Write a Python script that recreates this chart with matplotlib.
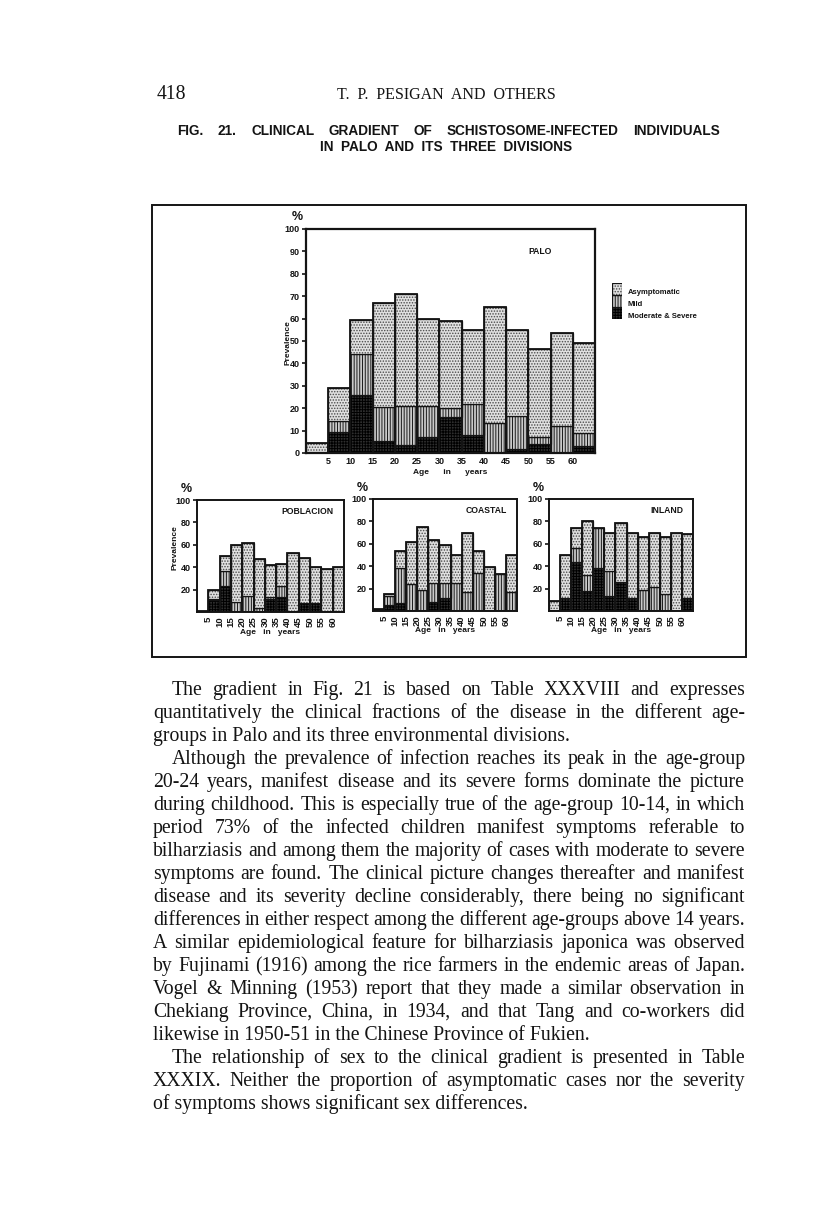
import matplotlib
matplotlib.use("Agg")
import matplotlib.pyplot as plt
import matplotlib.patches as mpatches
import numpy as np

W, H = 816, 1208

# age groups (bar left edge, years) and readings per division
age_starts = [0, 5, 10, 15, 20, 25, 30, 35, 40, 45, 50, 55, 60]
tick_ages = [5, 10, 15, 20, 25, 30, 35, 40, 45, 50, 55, 60]

# total prevalence, top of "mild" (all manifest), top of "moderate & severe"
palo_total = [4.5, 29, 59.5, 67, 71, 60, 59, 55, 65, 55, 46.5, 53.5, 49]
palo_manifest = [0, 14.5, 44, 20.5, 21, 21, 20, 22, 13.5, 16.5, 7, 12, 9]
palo_severe = [0, 9.5, 26, 5.5, 3.5, 7, 16, 8, 0, 2, 4, 0, 3]

pob_total = [1, 20, 50, 60, 62, 47, 42, 43, 53, 48, 40, 38, 40]
pob_manifest = [0, 12, 37, 9, 14, 4, 13, 23, 0, 8, 8, 0, 0]
pob_severe = [0, 11, 23, 0, 0, 0, 12, 13, 0, 8, 8, 0, 0]

coast_total = [2, 15, 54, 62, 75, 63, 59, 50, 70, 54, 39, 33, 50]
coast_manifest = [0, 13, 38, 24, 19, 25, 25, 25, 17, 34, 0, 33, 17]
coast_severe = [0, 5, 7, 0, 0, 8, 12, 0, 0, 0, 0, 0, 0]

inl_total = [9, 50, 74, 80, 74, 70, 79, 70, 66, 70, 66, 70, 69]
inl_manifest = [0, 12, 56, 32, 74, 36, 26, 12, 19, 21, 15, 0, 12]
inl_severe = [0, 12, 44, 18, 38, 13, 26, 12, 0, 0, 0, 0, 12]

legend_labels = ["Asymptomatic", "Mild", "Moderate & Severe"]

header_left = "418"
header_mid = "T.  P.  PESIGAN  AND  OTHERS"
title1 = "FIG. 21.  CLINICAL  GRADIENT  OF  SCHISTOSOME-INFECTED  INDIVIDUALS"
title2 = "IN  PALO  AND  ITS  THREE  DIVISIONS"

paragraphs = [
    ["The gradient in Fig. 21 is based on Table XXXVIII and expresses",
     "quantitatively the clinical fractions of the disease in the different age-",
     "groups in Palo and its three environmental divisions."],
    ["Although the prevalence of infection reaches its peak in the age-group",
     "20-24 years, manifest disease and its severe forms dominate the picture",
     "during childhood.  This is especially true of the age-group 10-14, in which",
     "period 73% of the infected children manifest symptoms referable to",
     "bilharziasis and among them the majority of cases with moderate to severe",
     "symptoms are found.  The clinical picture changes thereafter and manifest",
     "disease and its severity decline considerably, there being no significant",
     "differences in either respect among the different age-groups above 14 years.",
     "A similar epidemiological feature for bilharziasis japonica was observed",
     "by Fujinami (1916) among the rice farmers in the endemic areas of Japan.",
     "Vogel & Minning (1953) report that they made a similar observation in",
     "Chekiang Province, China, in 1934, and that Tang and co-workers did",
     "likewise in 1950-51 in the Chinese Province of Fukien."],
    ["The relationship of sex to the clinical gradient is presented in Table",
     "XXXIX.  Neither the proportion of asymptomatic cases nor the severity",
     "of symptoms shows significant sex differences."],
]

plt.rcParams["hatch.linewidth"] = 0.7
INK = "#141414"
SANS = "Liberation Sans"
SERIF = "Liberation Serif"

STYLES = {
    "asym": dict(fc="#e0e0e0", hatch="......", hc="#4a4a4a"),
    "mild": dict(fc="#cacaca", hatch="||||||", hc="#1a1a1a"),
    "sev": dict(fc="#2e2e2e", hatch="++++++", hc="#000000"),
}

fig = plt.figure(figsize=(W / 100, H / 100), dpi=100)
renderer = fig.canvas.get_renderer()


def fx(x):
    return x / W


def fy(y):
    return 1 - y / H


def add_ax(x0, y0, x1, y1):
    return fig.add_axes([fx(x0), fy(y1), (x1 - x0) / W, (y1 - y0) / H])


def seg(ax, x, h, b, key, width=5):
    s = STYLES[key]
    ax.bar(x, h, width, bottom=b, align="edge", color=s["fc"], hatch=s["hatch"],
           edgecolor=s["hc"], linewidth=0)
    ax.bar(x, h, width, bottom=b, align="edge", fill=False, edgecolor=INK, linewidth=0.9)


def stacked(ax, total, manifest, severe):
    total = np.array(total, float)
    manifest = np.array(manifest, float)
    severe = np.array(severe, float)
    seg(ax, age_starts, severe, 0, "sev")
    seg(ax, age_starts, manifest - severe, severe, "mild")
    seg(ax, age_starts, total - manifest, manifest, "asym")
    ax.bar(age_starts, total, 5, align="edge", fill=False, edgecolor=INK, linewidth=1.3)


def frame(ax, lw=1.6):
    for sp in ax.spines.values():
        sp.set_linewidth(lw)
        sp.set_color(INK)
    ax.set_xlim(0, 65)
    ax.set_ylim(0, 100)


def bold(size):
    return dict(family=SANS, fontweight="bold", fontsize=size, color=INK)


# ---- main chart: PALO
ax = add_ax(306, 229, 595, 453)
stacked(ax, palo_total, palo_manifest, palo_severe)
frame(ax)
ax.set_yticks(range(0, 101, 10))
ax.set_yticklabels([str(v) for v in range(0, 101, 10)], **bold(6.5))
ax.set_xticks(tick_ages)
ax.set_xticklabels([str(v) for v in tick_ages], **bold(6.5))
ax.tick_params(axis="y", length=3, width=1.2, pad=1.5, color=INK)
ax.tick_params(axis="x", length=0, pad=3)
ax.text(0.81, 0.9, "PALO", transform=ax.transAxes, ha="center", va="center", **bold(6.2))
fig.text(fx(297), fy(217), "%", ha="center", va="center", **bold(9))
fig.text(fx(288), fy(343), "Prevalence", rotation=90, ha="center", va="center", **bold(6))
fig.text(fx(450), fy(472), "Age      in      years", ha="center", va="center", **bold(6))

# legend swatch
lax = add_ax(612, 283, 622, 319)
for key, lo in zip(["sev", "mild", "asym"], [0, 1, 2]):
    seg(lax, [0], [1], lo, key, width=1)
lax.set_xlim(0, 1)
lax.set_ylim(0, 3)
lax.axis("off")
for lab, y in zip(legend_labels, [292, 304, 317]):
    fig.text(fx(628), fy(y), lab, ha="left", va="center", **bold(5.5))

# ---- small charts
small = [
    ("POBLACION", (197, 500, 344, 612), pob_total, pob_manifest, pob_severe, True),
    ("COASTAL", (373, 499, 517, 611), coast_total, coast_manifest, coast_severe, False),
    ("INLAND", (549, 499, 693, 611), inl_total, inl_manifest, inl_severe, False),
]
for name, (x0, y0, x1, y1), tot, man, sev, ylab in small:
    a = add_ax(x0, y0, x1, y1)
    stacked(a, tot, man, sev)
    frame(a, 1.4)
    a.set_yticks([20, 40, 60, 80, 100])
    a.set_yticklabels(["20", "40", "60", "80", "100"], **bold(6.5))
    a.set_xticks(tick_ages)
    a.set_xticklabels([str(v) for v in tick_ages], rotation=90, **bold(6.8))
    a.tick_params(axis="y", length=3, width=1.2, pad=1.5, color=INK)
    a.tick_params(axis="x", length=0, pad=3)
    a.text(0.93, 0.9, name, transform=a.transAxes, ha="right", va="center", **bold(6.2))
    fig.text(fx(x0 - 11), fy(y0 - 11), "%", ha="center", va="center", **bold(9))
    fig.text(fx((x0 + x1) / 2), fy(y1 + 20), "Age   in   years", ha="center",
             va="center", **bold(6))
    if ylab:
        fig.text(fx(x0 - 22), fy(y0 + 48), "Prevalence", rotation=90, ha="center",
                 va="center", **bold(6))

# figure frame
fig.patches.append(mpatches.Rectangle((fx(152), fy(657)), (746 - 152) / W, (657 - 205) / H,
                                      transform=fig.transFigure, fill=False,
                                      edgecolor=INK, linewidth=1.4))


# ---- text helpers
def justify(line, x0, x1, y, **kw):
    words = line.split()
    texts = [fig.text(0, fy(y), w, ha="left", va="baseline", **kw) for w in words]
    widths = [t.get_window_extent(renderer).width for t in texts]
    gap = (x1 - x0 - sum(widths)) / max(len(words) - 1, 1)
    x = x0
    for t, w in zip(texts, widths):
        t.set_x(fx(x))
        x += w + gap


serif = dict(family=SERIF, fontsize=14.2, color=INK)
fig.text(fx(157), fy(99), header_left, ha="left", va="baseline", **serif)
fig.text(fx(446), fy(99), header_mid, ha="center", va="baseline",
         family=SERIF, fontsize=11.5, color=INK)

title_kw = dict(family=SANS, fontweight="bold", fontsize=9.8, color=INK)
justify(title1, 177, 720, 135, **title_kw)
fig.text(fx(446), fy(151), title2, ha="center", va="baseline", **title_kw)

LEFT, RIGHT, INDENT = 153, 745, 172
y = 695
for para in paragraphs:
    for i, line in enumerate(para):
        x0 = INDENT if i == 0 else LEFT
        if i == len(para) - 1:
            fig.text(fx(x0), fy(y), line, ha="left", va="baseline", **serif)
        else:
            justify(line, x0, RIGHT, y, **serif)
        y += 23

fig.savefig("out.png", dpi=100, facecolor="white")
